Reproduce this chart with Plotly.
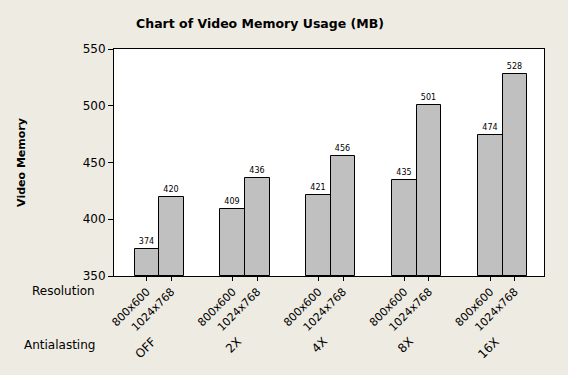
import plotly.graph_objects as go

antialiasing = ["OFF", "2X", "4X", "8X", "16X"]
resolutions = ["800x600", "1024x768"]
mem_800 = [374, 409, 421, 435, 474]
mem_1024 = [420, 436, 456, 501, 528]

GAP = 3.5
BG = "#EEEBE2"
FONT = "DejaVu Sans"

# plot area in pixels
PL, PR, PT, PB = 114, 544, 49, 276


def px_x(p):
    return (p - PL) / (PR - PL)


def px_y(p):
    return (PB - p) / (PB - PT)


xs, ys, ticktext = [], [], []
for g in range(len(antialiasing)):
    for r, series in enumerate([mem_800, mem_1024]):
        xs.append(g * GAP + r - 0.5)
        ys.append(series[g])
        ticktext.append(resolutions[r])

fig = go.Figure()
fig.add_trace(go.Bar(
    x=xs, y=[v - 350 for v in ys], base=350, width=1.0,
    marker=dict(color="#C0C0C0", line=dict(color="#000000", width=1)),
    text=[str(v) for v in ys], textposition="outside",
    textfont=dict(family=FONT, size=8, color="#000000"),
    cliponaxis=False, hoverinfo="skip",
))

fig.update_layout(
    width=568, height=375,
    margin=dict(l=PL, r=568 - PR, t=PT, b=375 - PB),
    paper_bgcolor=BG, plot_bgcolor="#FFFFFF",
    showlegend=False,
    font=dict(family=FONT, size=11, color="#000000"),
    title=dict(text="<b>Chart of Video Memory Usage (MB)</b>", x=260 / 568, xanchor="center",
               y=1 - 24 / 375, yanchor="middle", font=dict(family=FONT, size=12.5)),
    bargap=0,
)
fig.update_xaxes(
    range=[-1.84, 4 * GAP + 1.69], tickmode="array", tickvals=xs, ticktext=ticktext,
    tickangle=-45, ticks="outside", ticklen=4, tickcolor="#000000",
    showline=True, linecolor="#000000", linewidth=1, mirror=True,
    showgrid=False, zeroline=False, tickfont=dict(family=FONT, size=11),
)
fig.update_yaxes(
    range=[350, 550], tickvals=[350, 400, 450, 500, 550], ticks="outside", ticklen=5,
    tickcolor="#000000", showline=True, linecolor="#000000", linewidth=1, mirror=True,
    showgrid=False, zeroline=False, tickfont=dict(family=FONT, size=12),
    title=dict(text="<b>Video Memory</b>", font=dict(family=FONT, size=11), standoff=54),
)

for g, name in enumerate(antialiasing):
    fig.add_annotation(x=g * GAP + 0.1, xref="x", y=px_y(332), yref="paper",
                       text=name, textangle=-45, showarrow=False,
                       xanchor="right", yanchor="top", font=dict(family=FONT, size=12))

fig.add_annotation(x=px_x(97), xref="paper", y=px_y(291), yref="paper", text="Resolution",
                   showarrow=False, xanchor="right", yanchor="middle", font=dict(family=FONT, size=12))
fig.add_annotation(x=px_x(97), xref="paper", y=px_y(345), yref="paper", text="Antialasting",
                   showarrow=False, xanchor="right", yanchor="middle", font=dict(family=FONT, size=12))

fig.write_html("out.html")
